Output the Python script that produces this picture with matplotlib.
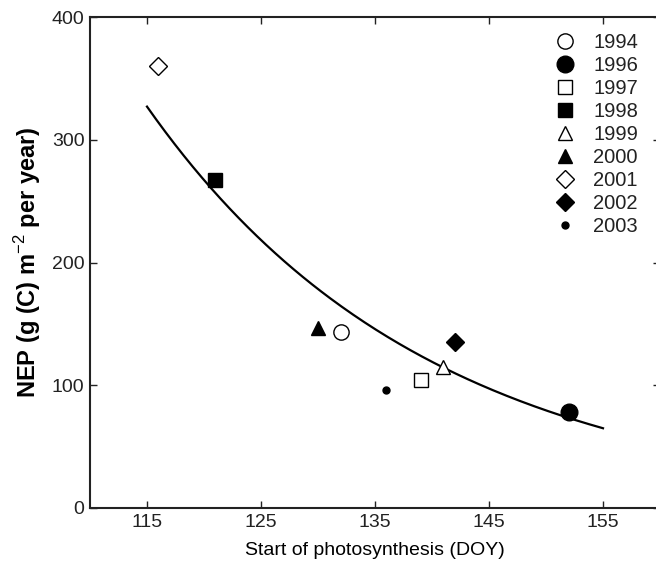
import matplotlib
matplotlib.use('Agg')
import matplotlib.pyplot as plt
import numpy as np

plt.rcParams['font.family'] = ['Liberation Sans', 'DejaVu Sans']
plt.rcParams['mathtext.fontset'] = 'custom'
plt.rcParams['mathtext.rm'] = 'Liberation Sans'
plt.rcParams['mathtext.bf'] = 'Liberation Sans:bold'

# ---- data ----
years = ['1994', '1996', '1997', '1998', '1999', '2000', '2001', '2002', '2003']
doy = [132, 152, 139, 121, 141, 130, 116, 142, 136]
nep = [143, 78, 104, 267, 115, 147, 360, 135, 96]
markers = ['o', 'o', 's', 's', '^', '^', 'D', 'D', 'o']
filled = [False, True, False, True, False, True, False, True, True]
sizes = [11, 12, 9.5, 9.5, 10, 10, 9, 9.5, 5]

# exponential fit curve NEP = a * exp(b * (DOY - 115))
fit_a = 327.0
fit_b = -0.0404
fit_start, fit_end = 115, 155

fig = plt.figure(figsize=(6.56, 5.75), dpi=100)
ax = fig.add_axes([90 / 656, 1 - 508 / 575, 570 / 656, 491 / 575])

xs = np.linspace(fit_start, fit_end, 200)
ax.plot(xs, fit_a * np.exp(fit_b * (xs - fit_start)), 'k-', lw=1.6)

for i in range(len(years)):
    ax.plot(doy[i], nep[i], linestyle='none', marker=markers[i], ms=sizes[i],
            mec='k', mfc='k' if filled[i] else 'white', mew=1.0, label=years[i])

ax.set_xlim(110, 160)
ax.set_ylim(0, 400)
ax.set_xticks([115, 125, 135, 145, 155])
ax.set_yticks([0, 100, 200, 300, 400])
ax.tick_params(direction='in', top=True, right=True, length=5, width=1,
               labelsize=14, colors='#222222', pad=4)
for s in ax.spines.values():
    s.set_linewidth(1.5)
    s.set_color('#222222')

ax.set_xlabel('Start of photosynthesis (DOY)', fontsize=14, labelpad=8)
ax.set_ylabel('NEP (g (C) m$^{-2}$ per year)', fontsize=17, fontweight='bold', labelpad=6)

leg = ax.legend(loc='upper right', bbox_to_anchor=(652 / 656, 1 - 19 / 575),
                bbox_transform=fig.transFigure, frameon=False, fontsize=14.5,
                handletextpad=0.9, labelspacing=0.2, borderpad=0.2,
                handlelength=1.0, numpoints=1)
for t in leg.get_texts():
    t.set_color('#222222')

fig.savefig('out.png', dpi=100)
